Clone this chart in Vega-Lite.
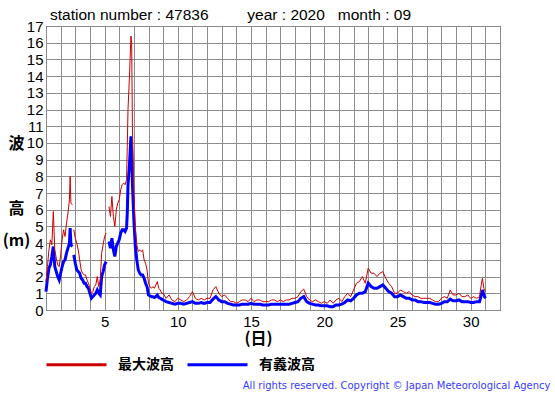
{
  "$schema": "https://vega.github.io/schema/vega-lite/v6.json",
  "width": 454,
  "height": 284,
  "autosize": {"type": "none"},
  "padding": {"left": 46, "top": 26, "right": 55, "bottom": 85},
  "background": "white",
  "title": {"text": "station number : 47836\u00a0\u00a0\u00a0\u00a0\u00a0\u00a0\u00a0\u00a0\u00a0year : 2020\u00a0\u00a0\u00a0month : 09"},
  "config": {
    "view": {"stroke": "black", "strokeWidth": 1},
    "title": {"anchor": "start", "frame": "group", "font": "Liberation Sans", "fontSize": 15.5, "fontWeight": "normal", "baseline": "alphabetic", "offset": 5, "dx": 4, "dy": 9, "color": "black"},
    "axis": {"labelFont": "Liberation Sans", "labelFontSize": 15, "labelColor": "black", "gridColor": "#8c8c8c", "gridOpacity": 1, "gridWidth": 1, "ticks": false, "domain": false, "labelOverlap": false},
    "legend": {"orient": "none", "legendX": -1, "legendY": 307, "direction": "horizontal", "symbolType": "stroke", "symbolSize": 3600, "symbolStrokeWidth": 3, "labelFont": "Noto Sans CJK JP", "labelFontSize": 14, "labelFontWeight": "bold", "labelColor": "black", "labelOffset": 10, "columnPadding": 7}
  },
  "data": {"values": [
    {"d": 1.0, "hmax": 1.7, "hsig": 1.1},
    {"d": 1.1, "hmax": 2.6, "hsig": 1.9},
    {"d": 1.2, "hmax": 3.6, "hsig": 2.5},
    {"d": 1.3, "hmax": 4.2, "hsig": 2.7},
    {"d": 1.4, "hmax": 3.9, "hsig": 3.2},
    {"d": 1.5, "hmax": 5.9, "hsig": 3.8},
    {"d": 1.6, "hmax": 3.6, "hsig": 2.6},
    {"d": 1.7, "hmax": 3.1, "hsig": 2.3},
    {"d": 1.8, "hmax": 2.7, "hsig": 2.0},
    {"d": 1.9, "hmax": 2.6, "hsig": 1.8},
    {"d": 2.0, "hmax": 3.3, "hsig": 2.2},
    {"d": 2.1, "hmax": 4.2, "hsig": 2.6},
    {"d": 2.2, "hmax": 4.8, "hsig": 2.9},
    {"d": 2.3, "hmax": 4.4, "hsig": 3.0},
    {"d": 2.4, "hmax": 5.2, "hsig": 3.4},
    {"d": 2.5, "hmax": 5.8, "hsig": 3.7},
    {"d": 2.6, "hmax": 6.6, "hsig": 4.0},
    {"d": 2.65, "hmax": 8.0, "hsig": 4.9},
    {"d": 2.7, "hmax": 6.4, "hsig": 3.9},
    {"d": 2.8, "hmax": 6.3, "hsig": 3.8},
    {"d": 2.85, "hmax": null, "hsig": null},
    {"d": 2.9, "hmax": 4.8, "hsig": 3.3},
    {"d": 3.0, "hmax": 4.3, "hsig": 2.8},
    {"d": 3.1, "hmax": 4.0, "hsig": 2.4},
    {"d": 3.2, "hmax": 3.6, "hsig": 2.3},
    {"d": 3.3, "hmax": 3.0, "hsig": 2.2},
    {"d": 3.4, "hmax": 2.4, "hsig": 1.9},
    {"d": 3.5, "hmax": 2.2, "hsig": 1.8},
    {"d": 3.6, "hmax": 2.1, "hsig": 1.6},
    {"d": 3.7, "hmax": 2.1, "hsig": 1.6},
    {"d": 3.8, "hmax": 1.8, "hsig": 1.4},
    {"d": 3.9, "hmax": 1.6, "hsig": 1.3},
    {"d": 4.0, "hmax": 1.3, "hsig": 1.0},
    {"d": 4.1, "hmax": 1.0, "hsig": 0.7},
    {"d": 4.2, "hmax": 1.1, "hsig": 0.8},
    {"d": 4.3, "hmax": 1.4, "hsig": 0.9},
    {"d": 4.4, "hmax": 1.5, "hsig": 1.0},
    {"d": 4.5, "hmax": 2.0, "hsig": 1.2},
    {"d": 4.6, "hmax": 1.4, "hsig": 1.0},
    {"d": 4.7, "hmax": 1.8, "hsig": 0.9},
    {"d": 4.8, "hmax": 3.4, "hsig": 2.0},
    {"d": 4.9, "hmax": 3.9, "hsig": 2.3},
    {"d": 5.0, "hmax": 4.4, "hsig": 2.7},
    {"d": 5.1, "hmax": 4.6, "hsig": 2.9},
    {"d": 5.2, "hmax": null, "hsig": null},
    {"d": 5.3, "hmax": 6.2, "hsig": 4.1},
    {"d": 5.4, "hmax": 5.6, "hsig": 3.7},
    {"d": 5.5, "hmax": 6.8, "hsig": 4.3},
    {"d": 5.6, "hmax": 5.6, "hsig": 3.6},
    {"d": 5.7, "hmax": 5.0, "hsig": 3.2},
    {"d": 5.8, "hmax": 6.0, "hsig": 3.8},
    {"d": 5.9, "hmax": 6.4, "hsig": 4.0},
    {"d": 6.0, "hmax": 6.6, "hsig": 4.2},
    {"d": 6.1, "hmax": 7.2, "hsig": 4.6},
    {"d": 6.2, "hmax": 7.5, "hsig": 4.8},
    {"d": 6.3, "hmax": 7.6, "hsig": 4.8},
    {"d": 6.4, "hmax": 7.5, "hsig": 4.7},
    {"d": 6.5, "hmax": 7.8, "hsig": 4.9},
    {"d": 6.55, "hmax": 9.8, "hsig": 5.8},
    {"d": 6.6, "hmax": 12.0, "hsig": 7.5},
    {"d": 6.7, "hmax": 14.0, "hsig": 8.7},
    {"d": 6.8, "hmax": 16.4, "hsig": 10.4},
    {"d": 6.85, "hmax": 16.0, "hsig": 9.5},
    {"d": 6.9, "hmax": 11.0, "hsig": 7.6},
    {"d": 7.0, "hmax": 7.0, "hsig": 5.4},
    {"d": 7.1, "hmax": 5.0, "hsig": 3.8},
    {"d": 7.2, "hmax": 3.9, "hsig": 3.0},
    {"d": 7.3, "hmax": 3.5, "hsig": 2.4},
    {"d": 7.4, "hmax": 3.6, "hsig": 2.2},
    {"d": 7.5, "hmax": 3.5, "hsig": 2.1},
    {"d": 7.6, "hmax": 3.6, "hsig": 2.1},
    {"d": 7.7, "hmax": 3.0, "hsig": 1.9},
    {"d": 7.8, "hmax": 2.8, "hsig": 1.6},
    {"d": 7.9, "hmax": 2.4, "hsig": 1.4},
    {"d": 8.0, "hmax": 1.6, "hsig": 0.9},
    {"d": 8.1, "hmax": 1.4, "hsig": 0.85},
    {"d": 8.2, "hmax": 1.3, "hsig": 0.8},
    {"d": 8.3, "hmax": 1.4, "hsig": 0.8},
    {"d": 8.4, "hmax": 1.3, "hsig": 0.75},
    {"d": 8.5, "hmax": 1.5, "hsig": 0.8},
    {"d": 8.6, "hmax": 1.7, "hsig": 0.9},
    {"d": 8.7, "hmax": 1.3, "hsig": 0.75},
    {"d": 8.8, "hmax": 1.2, "hsig": 0.7},
    {"d": 8.9, "hmax": 1.0, "hsig": 0.65},
    {"d": 9.0, "hmax": 1.0, "hsig": 0.6},
    {"d": 9.2, "hmax": 0.7, "hsig": 0.5},
    {"d": 9.4, "hmax": 0.9, "hsig": 0.45},
    {"d": 9.6, "hmax": 0.6, "hsig": 0.4},
    {"d": 9.8, "hmax": 0.5, "hsig": 0.35},
    {"d": 10.0, "hmax": 0.7, "hsig": 0.4},
    {"d": 10.2, "hmax": 0.6, "hsig": 0.4},
    {"d": 10.4, "hmax": 0.5, "hsig": 0.35},
    {"d": 10.6, "hmax": 0.6, "hsig": 0.4},
    {"d": 10.8, "hmax": 0.8, "hsig": 0.45},
    {"d": 11.0, "hmax": 1.1, "hsig": 0.5},
    {"d": 11.2, "hmax": 0.7, "hsig": 0.4},
    {"d": 11.4, "hmax": 0.6, "hsig": 0.4},
    {"d": 11.6, "hmax": 0.7, "hsig": 0.45},
    {"d": 11.8, "hmax": 0.6, "hsig": 0.4},
    {"d": 12.0, "hmax": 0.7, "hsig": 0.45},
    {"d": 12.2, "hmax": 0.7, "hsig": 0.45},
    {"d": 12.4, "hmax": 1.2, "hsig": 0.65},
    {"d": 12.6, "hmax": 1.4, "hsig": 0.8},
    {"d": 12.8, "hmax": 1.0, "hsig": 0.6},
    {"d": 13.0, "hmax": 0.8, "hsig": 0.5},
    {"d": 13.2, "hmax": 0.9, "hsig": 0.5},
    {"d": 13.4, "hmax": 0.7, "hsig": 0.4},
    {"d": 13.6, "hmax": 0.5, "hsig": 0.35},
    {"d": 13.8, "hmax": 0.5, "hsig": 0.3},
    {"d": 14.0, "hmax": 0.4, "hsig": 0.3},
    {"d": 14.2, "hmax": 0.5, "hsig": 0.3},
    {"d": 14.4, "hmax": 0.6, "hsig": 0.35},
    {"d": 14.6, "hmax": 0.6, "hsig": 0.35},
    {"d": 14.8, "hmax": 0.5, "hsig": 0.35},
    {"d": 15.0, "hmax": 0.7, "hsig": 0.4},
    {"d": 15.2, "hmax": 0.5, "hsig": 0.35},
    {"d": 15.4, "hmax": 0.6, "hsig": 0.35},
    {"d": 15.6, "hmax": 0.6, "hsig": 0.35},
    {"d": 15.8, "hmax": 0.5, "hsig": 0.3},
    {"d": 16.0, "hmax": 0.5, "hsig": 0.3},
    {"d": 16.2, "hmax": 0.5, "hsig": 0.3},
    {"d": 16.4, "hmax": 0.6, "hsig": 0.35},
    {"d": 16.6, "hmax": 0.6, "hsig": 0.35},
    {"d": 16.8, "hmax": 0.5, "hsig": 0.35},
    {"d": 17.0, "hmax": 0.6, "hsig": 0.35},
    {"d": 17.2, "hmax": 0.5, "hsig": 0.35},
    {"d": 17.4, "hmax": 0.6, "hsig": 0.35},
    {"d": 17.6, "hmax": 0.6, "hsig": 0.35},
    {"d": 17.8, "hmax": 0.7, "hsig": 0.4},
    {"d": 18.0, "hmax": 0.7, "hsig": 0.45},
    {"d": 18.2, "hmax": 0.8, "hsig": 0.5},
    {"d": 18.4, "hmax": 1.1, "hsig": 0.7},
    {"d": 18.6, "hmax": 1.25, "hsig": 0.8},
    {"d": 18.8, "hmax": 0.8, "hsig": 0.5},
    {"d": 19.0, "hmax": 0.6, "hsig": 0.4},
    {"d": 19.2, "hmax": 0.5, "hsig": 0.35},
    {"d": 19.4, "hmax": 0.6, "hsig": 0.3},
    {"d": 19.6, "hmax": 0.5, "hsig": 0.3},
    {"d": 19.8, "hmax": 0.4, "hsig": 0.25},
    {"d": 20.0, "hmax": 0.5, "hsig": 0.25},
    {"d": 20.2, "hmax": 0.4, "hsig": 0.25},
    {"d": 20.4, "hmax": 0.6, "hsig": 0.2},
    {"d": 20.6, "hmax": 0.4, "hsig": 0.2},
    {"d": 20.8, "hmax": 0.6, "hsig": 0.3},
    {"d": 21.0, "hmax": 0.7, "hsig": 0.3},
    {"d": 21.2, "hmax": 0.5, "hsig": 0.35},
    {"d": 21.4, "hmax": 0.8, "hsig": 0.45},
    {"d": 21.6, "hmax": 1.0, "hsig": 0.6},
    {"d": 21.8, "hmax": 0.8, "hsig": 0.55},
    {"d": 22.0, "hmax": 1.2, "hsig": 0.7},
    {"d": 22.2, "hmax": 1.6, "hsig": 0.9},
    {"d": 22.4, "hmax": 1.7, "hsig": 1.0},
    {"d": 22.6, "hmax": 2.0, "hsig": 1.0},
    {"d": 22.8, "hmax": 1.6, "hsig": 1.1},
    {"d": 23.0, "hmax": 2.5, "hsig": 1.6},
    {"d": 23.2, "hmax": 2.2, "hsig": 1.4},
    {"d": 23.4, "hmax": 2.2, "hsig": 1.3},
    {"d": 23.6, "hmax": 2.0, "hsig": 1.3},
    {"d": 23.8, "hmax": 2.2, "hsig": 1.4},
    {"d": 24.0, "hmax": 2.3, "hsig": 1.5},
    {"d": 24.2, "hmax": 1.9, "hsig": 1.3},
    {"d": 24.4, "hmax": 1.6, "hsig": 1.1},
    {"d": 24.6, "hmax": 1.4, "hsig": 1.0},
    {"d": 24.8, "hmax": 1.0, "hsig": 0.8},
    {"d": 25.0, "hmax": 1.0, "hsig": 0.8},
    {"d": 25.2, "hmax": 1.2, "hsig": 0.9},
    {"d": 25.4, "hmax": 1.1, "hsig": 0.8},
    {"d": 25.6, "hmax": 1.0, "hsig": 0.7},
    {"d": 25.8, "hmax": 1.1, "hsig": 0.7},
    {"d": 26.0, "hmax": 0.9, "hsig": 0.6},
    {"d": 26.2, "hmax": 0.8, "hsig": 0.6},
    {"d": 26.4, "hmax": 0.8, "hsig": 0.5},
    {"d": 26.6, "hmax": 0.7, "hsig": 0.5},
    {"d": 26.8, "hmax": 0.7, "hsig": 0.45},
    {"d": 27.0, "hmax": 0.7, "hsig": 0.45},
    {"d": 27.2, "hmax": 0.7, "hsig": 0.45},
    {"d": 27.4, "hmax": 0.6, "hsig": 0.4},
    {"d": 27.6, "hmax": 0.5, "hsig": 0.35},
    {"d": 27.8, "hmax": 0.5, "hsig": 0.35},
    {"d": 28.0, "hmax": 0.7, "hsig": 0.4},
    {"d": 28.2, "hmax": 0.8, "hsig": 0.5},
    {"d": 28.4, "hmax": 0.7, "hsig": 0.5},
    {"d": 28.6, "hmax": 1.2, "hsig": 0.65},
    {"d": 28.8, "hmax": 0.9, "hsig": 0.55},
    {"d": 29.0, "hmax": 0.9, "hsig": 0.55},
    {"d": 29.2, "hmax": 1.0, "hsig": 0.6},
    {"d": 29.4, "hmax": 0.8, "hsig": 0.5},
    {"d": 29.6, "hmax": 0.8, "hsig": 0.5},
    {"d": 29.8, "hmax": 0.9, "hsig": 0.5},
    {"d": 30.0, "hmax": 0.7, "hsig": 0.45},
    {"d": 30.2, "hmax": 0.8, "hsig": 0.45},
    {"d": 30.4, "hmax": 0.7, "hsig": 0.5},
    {"d": 30.6, "hmax": 0.8, "hsig": 0.5},
    {"d": 30.7, "hmax": 1.4, "hsig": 0.8},
    {"d": 30.8, "hmax": 1.9, "hsig": 1.2},
    {"d": 30.9, "hmax": 1.3, "hsig": 0.9},
    {"d": 31.0, "hmax": 1.1, "hsig": 0.7}
  ]},
  "encoding": {
    "x": {"field": "d", "type": "quantitative", "scale": {"domain": [1, 32], "nice": false, "zero": false},
      "axis": {"values": [1,2,3,4,5,6,7,8,9,10,11,12,13,14,15,16,17,18,19,20,21,22,23,24,25,26,27,28,29,30,31,32],
        "labelExpr": "datum.value % 5 === 0 ? datum.label : ''", "labelPadding": 4, "grid": true,
        "title": "(日)", "titleFont": "Noto Sans CJK JP", "titleFontSize": 16, "titleFontWeight": "bold", "titleColor": "black",
        "titleAnchor": "start", "titleAlign": "center", "titleX": 212, "titleY": 20, "titleBaseline": "top"}}
  },
  "layer": [
    {
      "mark": {"type": "line", "strokeWidth": 3, "invalid": "break-paths-show-domains", "interpolate": "linear"},
      "encoding": {
        "y": {"field": "hsig", "type": "quantitative", "scale": {"domain": [0, 17], "nice": false},
          "axis": {"values": [0,1,2,3,4,5,6,7,8,9,10,11,12,13,14,15,16,17], "grid": true, "labelPadding": 3,
            "title": ["波", "\u200b", "高", "(m)"], "titleAngle": 0, "titleAlign": "center", "titleBaseline": "top",
            "titleX": -30, "titleY": 109, "titleFont": "Noto Sans CJK JP", "titleFontSize": 16, "titleFontWeight": "bold",
            "titleLineHeight": 32.5, "titleColor": "black"}},
        "color": {"datum": "有義波高", "type": "nominal",
          "scale": {"domain": ["最大波高", "有義波高"], "range": ["#cc0000", "#0000ff"]}, "legend": {"title": null}}
      }
    },
    {
      "mark": {"type": "line", "strokeWidth": 1, "invalid": "break-paths-show-domains", "interpolate": "linear"},
      "encoding": {
        "y": {"field": "hmax", "type": "quantitative",
          "axis": {"orient": "right", "grid": false, "labels": false, "ticks": false, "domain": false,
            "title": "All rights reserved. Copyright © Japan Meteorological Agency", "titleAngle": 0, "titleAlign": "right",
            "titleBaseline": "alphabetic", "titleX": 50, "titleY": 362, "titleFont": "DejaVu Sans", "titleFontSize": 10,
            "titleFontWeight": "normal", "titleColor": "#3a3aff"}},
        "color": {"datum": "最大波高", "type": "nominal"}
      }
    }
  ],
  "resolve": {"axis": {"y": "independent"}}
}
